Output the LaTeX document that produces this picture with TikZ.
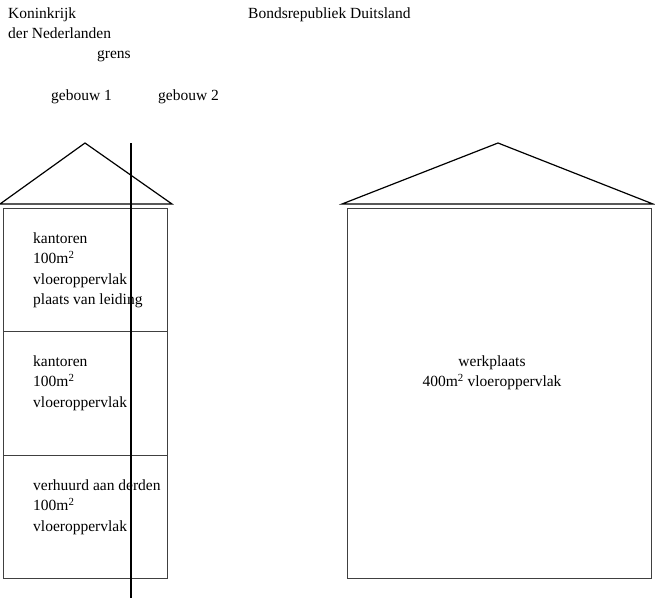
\documentclass[tikz,border=0pt]{standalone}
\usepackage{fontspec}
\setmainfont{Liberation Serif}
\begin{document}
\begin{tikzpicture}[x=1pt,y=-1pt,
  lbl/.style={anchor=base west,inner sep=0pt,font=\fontsize{15.5}{20}\selectfont},
  clbl/.style={anchor=base,inner sep=0pt,font=\fontsize{15.5}{20}\selectfont},
  roof/.style={line width=1.2pt,line join=miter},
  wall/.style={line width=0.8pt,draw=black!75}]
\useasboundingbox (0,0) rectangle (655,600);
% headings
\node[lbl] (nl1) at (8,18) {Koninkrijk};
\node[lbl] (nl2) at (8,38) {der Nederlanden};
\node[lbl] (grens) at (97,58) {grens};
\node[lbl] (g1) at (51,100) {gebouw 1};
\node[lbl] (g2) at (158,100) {gebouw 2};
\node[lbl] (de) at (248,18) {Bondsrepubliek Duitsland};
% left building
\draw[roof] (0,204) -- (85,143) -- (172,204) -- cycle;
\draw[wall] (3,208) rectangle (167,578);
\draw[wall] (3,331) -- (167,331);
\draw[wall] (3,455) -- (167,455);
% right building
\draw[roof] (342,204) -- (498,143) -- (653,204) -- cycle;
\draw[wall] (347,208) rectangle (651,578);
% texts in left building
\node[lbl] (a1) at (33,243) {kantoren};
\node[lbl] (a2) at (33,263.5) {100m\textsuperscript{2}};
\node[lbl] (a3) at (33,284) {vloeroppervlak};
\node[lbl] (a4) at (33,304.5) {plaats van leiding};
\node[lbl] (b1) at (33,366) {kantoren};
\node[lbl] (b2) at (33,386.5) {100m\textsuperscript{2}};
\node[lbl] (b3) at (33,407) {vloeroppervlak};
\node[lbl] (c1) at (33,490) {verhuurd aan derden};
\node[lbl] (c2) at (33,510.5) {100m\textsuperscript{2}};
\node[lbl] (c3) at (33,531) {vloeroppervlak};
% right building text
\node[clbl] (w1) at (492,366) {werkplaats};
\node[clbl] (w2) at (492,386.5) {400m\textsuperscript{2} vloeroppervlak};
% border
\coordinate (bt) at (131,143);
\coordinate (bb) at (131,598);
\draw[line width=1.2pt] (bt) -- (bb);
\end{tikzpicture}
\end{document}
